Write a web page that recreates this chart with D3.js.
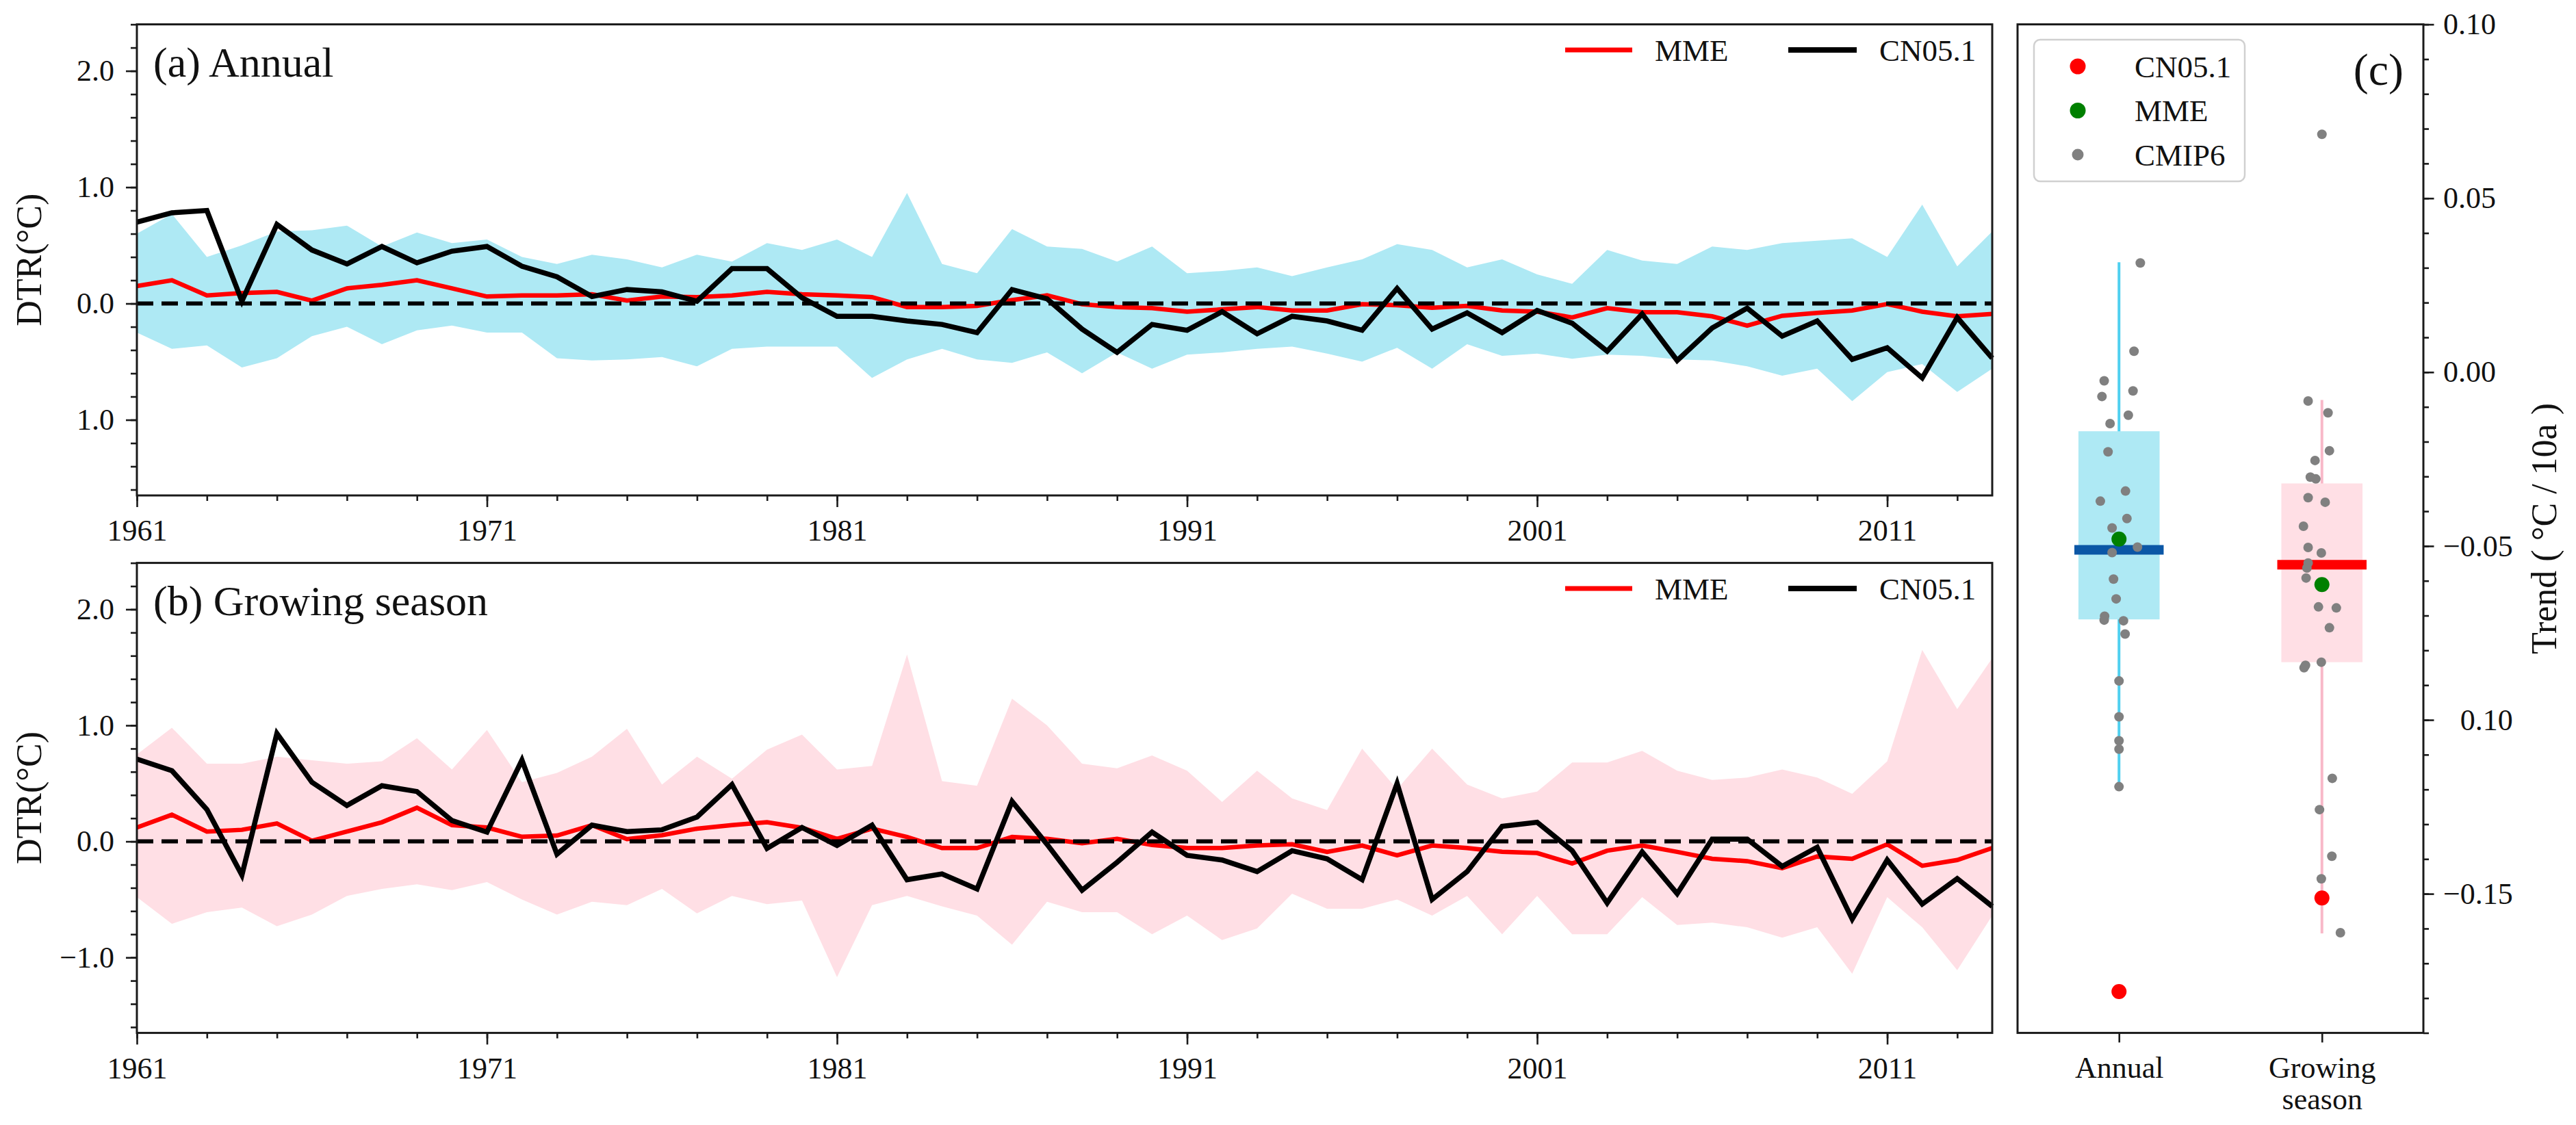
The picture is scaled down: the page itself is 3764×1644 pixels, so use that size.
<!DOCTYPE html>
<html>
<head>
<meta charset="utf-8">
<script src="https://cdn.jsdelivr.net/npm/d3@7"></script>
<style>
body { margin: 0; background: #fff; }
svg text { font-family: "Liberation Serif", "Times New Roman", "DejaVu Serif", serif !important; fill: #111; }
</style>
</head>
<body>
<svg id="fig" width="3764" height="1644" font-family="Liberation Serif, DejaVu Serif, serif"></svg>
<script>
// ---- data ----
var years = d3.range(1961, 2015);

var annualCN = [0.70,0.78,0.80,0.02,0.68,0.46,0.34,0.49,0.35,0.45,0.49,0.32,0.23,0.06,0.12,0.10,0.02,0.30,0.30,0.05,
  -0.11,-0.11,-0.15,-0.18,-0.25,0.12,0.04,-0.22,-0.42,-0.18,-0.23,-0.07,-0.26,-0.11,-0.15,-0.23,0.13,-0.22,-0.08,-0.25,
  -0.06,-0.17,-0.41,-0.09,-0.49,-0.21,-0.04,-0.28,-0.15,-0.48,-0.38,-0.64,-0.12,-0.47];
var annualMME = [0.15,0.20,0.07,0.09,0.10,0.025,0.13,0.16,0.20,0.13,0.06,0.07,0.07,0.08,0.025,0.06,0.055,0.07,0.10,0.08,
  0.07,0.055,-0.03,-0.03,-0.02,0.03,0.07,-0.006,-0.03,-0.04,-0.07,-0.05,-0.03,-0.06,-0.06,-0.006,-0.015,-0.037,-0.02,-0.06,
  -0.07,-0.12,-0.04,-0.075,-0.075,-0.11,-0.19,-0.105,-0.08,-0.06,-0.005,-0.07,-0.11,-0.09];
var annualUpper = [0.60,0.77,0.40,0.50,0.62,0.63,0.67,0.49,0.61,0.52,0.55,0.40,0.34,0.42,0.38,0.31,0.42,0.36,0.52,0.46,
  0.55,0.40,0.95,0.34,0.26,0.64,0.49,0.47,0.36,0.49,0.26,0.28,0.31,0.235,0.31,0.38,0.51,0.46,0.31,0.38,
  0.25,0.17,0.46,0.37,0.34,0.49,0.46,0.52,0.54,0.56,0.40,0.85,0.32,0.62];
var annualLower = [-0.25,-0.39,-0.36,-0.55,-0.47,-0.28,-0.20,-0.35,-0.23,-0.19,-0.25,-0.25,-0.47,-0.49,-0.48,-0.46,-0.54,-0.39,-0.37,-0.37,
  -0.37,-0.64,-0.48,-0.39,-0.48,-0.51,-0.42,-0.60,-0.42,-0.56,-0.44,-0.42,-0.39,-0.37,-0.43,-0.50,-0.38,-0.56,-0.35,-0.45,
  -0.43,-0.475,-0.44,-0.45,-0.48,-0.49,-0.54,-0.62,-0.56,-0.84,-0.59,-0.52,-0.76,-0.56];

var growCN = [0.71,0.61,0.275,-0.29,0.93,0.51,0.31,0.48,0.43,0.18,0.08,0.70,-0.11,0.14,0.085,0.10,0.21,0.49,-0.06,0.12,
  -0.035,0.14,-0.33,-0.28,-0.41,0.345,-0.025,-0.42,-0.18,0.08,-0.12,-0.16,-0.26,-0.08,-0.15,-0.33,0.50,-0.50,-0.26,0.13,
  0.165,-0.08,-0.53,-0.09,-0.45,0.02,0.02,-0.215,-0.05,-0.67,-0.16,-0.54,-0.32,-0.56];
var growMME = [0.12,0.23,0.085,0.10,0.155,0.006,0.085,0.165,0.29,0.14,0.12,0.04,0.05,0.14,0.02,0.054,0.11,0.14,0.165,0.117,
  0.022,0.11,0.038,-0.057,-0.057,0.038,0.022,-0.016,0.022,-0.03,-0.057,-0.057,-0.035,-0.025,-0.09,-0.035,-0.12,-0.035,-0.057,-0.09,
  -0.10,-0.19,-0.08,-0.035,-0.09,-0.15,-0.17,-0.23,-0.13,-0.15,-0.025,-0.21,-0.16,-0.057];
var growUpper = [0.75,0.98,0.67,0.67,0.73,0.70,0.67,0.69,0.89,0.62,0.96,0.51,0.59,0.73,0.97,0.49,0.73,0.54,0.79,0.92,
  0.62,0.65,1.61,0.52,0.48,1.23,1.00,0.67,0.63,0.74,0.61,0.34,0.61,0.37,0.27,0.80,0.45,0.80,0.49,0.37,
  0.43,0.68,0.68,0.78,0.61,0.53,0.55,0.62,0.55,0.41,0.69,1.65,1.14,1.58];
var growLower = [-0.48,-0.71,-0.61,-0.57,-0.73,-0.63,-0.47,-0.41,-0.37,-0.42,-0.35,-0.50,-0.63,-0.52,-0.55,-0.41,-0.62,-0.47,-0.54,-0.51,
  -1.17,-0.55,-0.47,-0.56,-0.64,-0.89,-0.52,-0.61,-0.61,-0.80,-0.64,-0.85,-0.75,-0.45,-0.58,-0.58,-0.50,-0.64,-0.47,-0.80,
  -0.47,-0.80,-0.80,-0.48,-0.72,-0.70,-0.74,-0.83,-0.74,-1.14,-0.48,-0.74,-1.11,-0.64];

var yearTicks = [1961, 1971, 1981, 1991, 2001, 2011];
var dtrTicks = [-1, 0, 1, 2];
var dtrLabelsA = ["1.0", "0.0", "1.0", "2.0"];
var dtrLabelsB = ["\u22121.0", "0.0", "1.0", "2.0"];

// panel (c)
var boxCats = ["Annual", "Growing\nseason"];
var boxLow = [-0.1192, -0.1614];
var boxQ1 = [-0.0711, -0.0834];
var boxMed = [-0.0511, -0.0554];
var boxQ3 = [-0.0170, -0.0320];
var boxHigh = [0.0316, -0.0080];
var trendCN = [-0.1781, -0.1512];
var trendMME = [-0.0480, -0.0611];
var cmipAnnual = [0.0314,0.0060,-0.0025,-0.0070,-0.0054,-0.0124,-0.0148,-0.0229,-0.0342,-0.0371,-0.0421,-0.0448,-0.0503,
  -0.0519,-0.0595,-0.0652,-0.0702,-0.0713,-0.0715,-0.0753,-0.0888,-0.0991,-0.1060,-0.1084,-0.1192];
var cmipAnnualJitter = [0.105,0.074,-0.073,-0.084,0.069,0.046,-0.044,-0.054,0.032,-0.092,0.039,-0.034,0.091,
  -0.034,-0.027,-0.014,-0.071,-0.073,0.022,0.030,0,0,0,0,0];
var cmipGrow = [0.0684,-0.0083,-0.0117,-0.0226,-0.0254,-0.0302,-0.0307,-0.0361,-0.0374,-0.0443,-0.0504,-0.0520,-0.0549,
  -0.0563,-0.0592,-0.0675,-0.0678,-0.0735,-0.0834,-0.0843,-0.0850,-0.1168,-0.1258,-0.1392,-0.1457,-0.1612];
var cmipGrowJitter = [0,-0.068,0.030,0.037,-0.034,-0.057,-0.030,-0.068,0.016,-0.091,-0.068,-0.003,-0.068,
  -0.074,-0.078,-0.017,0.071,0.037,-0.003,-0.081,-0.088,0.051,-0.012,0.049,-0.003,0.091];
var trendTicks = [-0.15, -0.10, -0.05, 0, 0.05, 0.10];
var trendLabels = ["\u22120.15", "0.10", "\u22120.05", "0.00", "0.05", "0.10"];

// ---- drawing ----
var svg = d3.select("#fig");
var INK = "#1a1a1a";
var SERIF = "Liberation Serif, Times New Roman, DejaVu Serif, serif";

var styleAxis = function(g){
  g.attr("font-family", SERIF);
  g.select(".domain").remove();
  g.selectAll(".tick line").attr("stroke", INK).attr("stroke-width", 2.6);
  g.selectAll("text").attr("font-size", 44).attr("fill", INK).attr("font-family", SERIF);
};

var drawSeries = function(top, bottom, o){
  var left = 200, right = 2911;
  var x = d3.scaleLinear().domain([1961, 2014]).range([left, right]);
  var y = d3.scaleLinear().domain([-1.65, 2.4]).range([bottom, top]);
  var g = svg.append("g");

  g.append("path")
    .datum(years)
    .attr("fill", o.band)
    .attr("d", d3.area()
      .x(function(d){ return x(d); })
      .y0(function(d, i){ return y(o.lower[i]); })
      .y1(function(d, i){ return y(o.upper[i]); }));

  var line = function(vals){
    return d3.line().x(function(d){ return x(d); }).y(function(d, i){ return y(vals[i]); })(years);
  };
  g.append("path").attr("d", line(o.mme)).attr("fill", "none").attr("stroke", "#ff0000").attr("stroke-width", 6.5);
  g.append("line").attr("x1", x(1961)).attr("x2", x(2014)).attr("y1", y(0)).attr("y2", y(0))
    .attr("stroke", "#000").attr("stroke-width", 6).attr("stroke-dasharray", "24,12");
  g.append("path").attr("d", line(o.cn)).attr("fill", "none").attr("stroke", "#000")
    .attr("stroke-width", 7.5).attr("stroke-linejoin", "miter");

  // axes
  g.append("g").attr("transform", "translate(0," + bottom + ")")
    .call(d3.axisBottom(x).tickValues(d3.range(1961, 2015, 2)).tickSize(8).tickFormat(""))
    .call(styleAxis);
  g.append("g").attr("transform", "translate(0," + bottom + ")")
    .call(d3.axisBottom(x).tickValues(yearTicks).tickSize(17).tickPadding(18).tickFormat(d3.format("d")))
    .call(styleAxis);
  g.append("g").attr("transform", "translate(" + left + ",0)")
    .call(d3.axisLeft(y).tickValues(d3.range(-16, 25, 2).map(function(k){ return k / 10; })).tickSize(9).tickFormat(""))
    .call(styleAxis);
  g.append("g").attr("transform", "translate(" + left + ",0)")
    .call(d3.axisLeft(y).tickValues(dtrTicks).tickSize(16).tickPadding(17)
      .tickFormat(function(d, i){ return o.yLabels[i]; }))
    .call(styleAxis);

  g.append("rect").attr("x", left).attr("y", top).attr("width", right - left).attr("height", bottom - top)
    .attr("fill", "none").attr("stroke", INK).attr("stroke-width", 3);

  g.append("text").attr("x", left + 24).attr("y", top + 76.5).attr("font-size", 62)
    .attr("font-family", SERIF).text(o.title);

  g.append("text")
    .attr("transform", "translate(42," + ((top + bottom) / 2) + ") rotate(-90)")
    .attr("text-anchor", "middle").attr("dy", "0.35em").attr("font-size", 52)
    .attr("font-family", SERIF).text("DTR(°C)");

  // legend
  var ly = top + 37.5;
  g.append("line").attr("x1", 2287).attr("x2", 2385).attr("y1", ly).attr("y2", ly)
    .attr("stroke", "#ff0000").attr("stroke-width", 7);
  g.append("text").attr("x", 2418).attr("y", ly).attr("dy", "0.35em").attr("font-size", 45)
    .attr("font-family", SERIF).text("MME");
  g.append("line").attr("x1", 2613).attr("x2", 2713).attr("y1", ly).attr("y2", ly)
    .attr("stroke", "#000").attr("stroke-width", 8);
  g.append("text").attr("x", 2746).attr("y", ly).attr("dy", "0.35em").attr("font-size", 45)
    .attr("font-family", SERIF).text("CN05.1");
};

drawSeries(35.6, 724, { title: "(a) Annual", band: "#aee9f4", upper: annualUpper, lower: annualLower,
  mme: annualMME, cn: annualCN, yLabels: dtrLabelsA });
drawSeries(822.6, 1509.4, { title: "(b) Growing season", band: "#ffdfe5", upper: growUpper, lower: growLower,
  mme: growMME, cn: growCN, yLabels: dtrLabelsB });

// ---- panel (c) ----
(function(){
  var left = 2948, right = 3541, top = 35.6, bottom = 1509.4;
  var x = d3.scaleLinear().domain([-0.5, 1.5]).range([left, right]);
  var y = d3.scaleLinear().domain([-0.19, 0.10]).range([bottom, top]);
  var g = svg.append("g");
  var boxFill = ["#aee9f4", "#ffdfe5"];
  var whiskCol = ["#4fd0f0", "#f8b8c8"];
  var medCol = ["#0b57a6", "#ff0000"];

  boxCats.forEach(function(c, i){
    g.append("line").attr("x1", x(i)).attr("x2", x(i)).attr("y1", y(boxHigh[i])).attr("y2", y(boxLow[i]))
      .attr("stroke", whiskCol[i]).attr("stroke-width", 4);
    g.append("rect").attr("x", x(i - 0.2)).attr("width", x(i + 0.2) - x(i - 0.2))
      .attr("y", y(boxQ3[i])).attr("height", y(boxQ1[i]) - y(boxQ3[i])).attr("fill", boxFill[i]);
    g.append("line").attr("x1", x(i - 0.22)).attr("x2", x(i + 0.22)).attr("y1", y(boxMed[i])).attr("y2", y(boxMed[i]))
      .attr("stroke", medCol[i]).attr("stroke-width", 14);
  });

  var dots = function(vals, jit, pos){
    g.selectAll(null).data(vals).enter().append("circle")
      .attr("cx", function(d, i){ return x(pos + jit[i]); })
      .attr("cy", function(d){ return y(d); })
      .attr("r", 7).attr("fill", "#808080");
  };
  dots(cmipAnnual, cmipAnnualJitter, 0);
  dots(cmipGrow, cmipGrowJitter, 1);

  g.selectAll(null).data(trendMME).enter().append("circle")
    .attr("cx", function(d, i){ return x(i); }).attr("cy", function(d){ return y(d); })
    .attr("r", 11).attr("fill", "#008000");
  g.selectAll(null).data(trendCN).enter().append("circle")
    .attr("cx", function(d, i){ return x(i); }).attr("cy", function(d){ return y(d); })
    .attr("r", 11).attr("fill", "#ff0000");

  // right axis
  g.append("g").attr("transform", "translate(" + right + ",0)")
    .call(d3.axisRight(y).tickValues(d3.range(-19, 11).map(function(k){ return k / 100; })).tickSize(8).tickFormat(""))
    .call(styleAxis);
  g.append("g").attr("transform", "translate(" + right + ",0)")
    .call(d3.axisRight(y).tickValues(trendTicks).tickSize(15.5).tickPadding(13.5)
      .tickFormat(function(d, i){ return trendLabels[i]; }))
    .call(styleAxis)
    .selectAll("text").attr("dx", function(d, i){
      return (d < 0 && trendLabels[i].charAt(0) !== "\u2212") ? "0.564em" : null;
    });

  var bx = g.append("g").attr("transform", "translate(0," + bottom + ")")
    .call(d3.axisBottom(x).tickValues([0, 1]).tickSize(14).tickPadding(20).tickFormat(""))
    .call(styleAxis);
  bx.selectAll(".tick").each(function(d){
    var lines = boxCats[d].split("\n");
    var t = d3.select(this).append("text").attr("y", 34).attr("font-size", 44).attr("fill", INK)
      .attr("font-family", SERIF).attr("text-anchor", "middle");
    lines.forEach(function(s, k){
      t.append("tspan").attr("x", 0).attr("dy", k === 0 ? "0.71em" : "1.05em").text(s);
    });
  });

  g.append("rect").attr("x", left).attr("y", top).attr("width", right - left).attr("height", bottom - top)
    .attr("fill", "none").attr("stroke", INK).attr("stroke-width", 3);

  g.append("text").attr("x", 3512).attr("y", 124).attr("text-anchor", "end").attr("font-size", 66)
    .attr("font-family", SERIF).text("(c)");

  g.append("text")
    .attr("transform", "translate(3717," + ((top + bottom) / 2) + ") rotate(-90)")
    .attr("text-anchor", "middle").attr("dy", "0.35em").attr("font-size", 52)
    .attr("font-family", SERIF).text("Trend ( °C / 10a )");

  // legend
  var leg = g.append("g");
  leg.append("rect").attr("x", 2972).attr("y", 58).attr("width", 308).attr("height", 207).attr("rx", 9)
    .attr("fill", "#fff").attr("fill-opacity", 0.85).attr("stroke", "#d0d0d0").attr("stroke-width", 2.5);
  var items = [["CN05.1", "#ff0000", 11.5], ["MME", "#008000", 11.5], ["CMIP6", "#808080", 8.5]];
  items.forEach(function(it, k){
    var yy = 97 + k * 64.5;
    leg.append("circle").attr("cx", 3036).attr("cy", yy).attr("r", it[2]).attr("fill", it[1]);
    leg.append("text").attr("x", 3119).attr("y", yy).attr("dy", "0.35em").attr("font-size", 45)
      .attr("font-family", SERIF).text(it[0]);
  });
})();
</script>
</body>
</html>
